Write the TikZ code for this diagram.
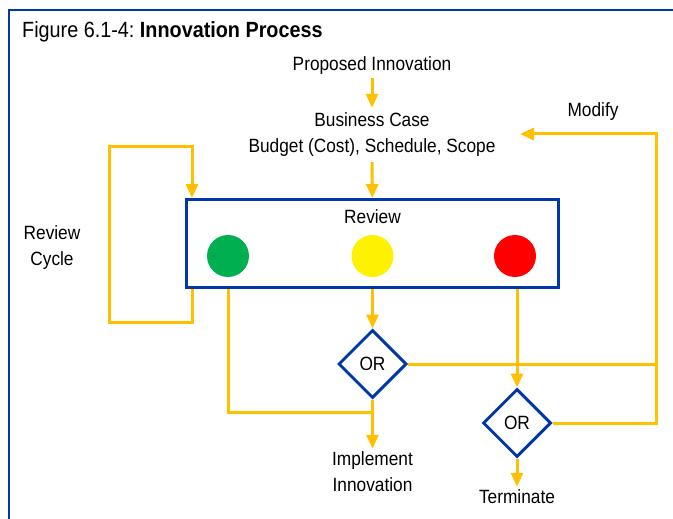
\documentclass[tikz,border=0pt]{standalone}
\usepackage{fontspec}
\setmainfont{Liberation Sans}[FakeStretch=0.9]
\usetikzlibrary{arrows.meta,shapes.geometric,positioning}
\definecolor{flowgold}{RGB}{255,192,0}
\definecolor{boxblue}{RGB}{0,56,168}
\definecolor{goodgreen}{RGB}{0,176,80}
\definecolor{warnyellow}{RGB}{255,242,0}
\definecolor{stopred}{RGB}{255,0,0}
\frenchspacing

\begin{document}
\begin{tikzpicture}[x=1pt,y=-1pt,
		flow/.style={draw=flowgold,line width=3pt},
		flowarrow/.style={flow,-{Triangle[length=14pt,width=12pt]}},
		lbl/.style={align=center,font=\fontsize{19.2}{26}\selectfont,inner sep=3pt},
		lamp/.style={circle,inner sep=0pt,minimum size=42pt,fill=#1},
		orgate/.style={diamond,draw=boxblue,line width=3pt,fill=white,minimum size=68pt,inner sep=0pt,font=\fontsize{19.2}{20}\selectfont}]
	\useasboundingbox (0,0) rectangle (673,519);
	\draw[boxblue,line width=2.5pt] (9,530) -- (9,10) -- (680,10);
	\node[anchor=west,font=\fontsize{22}{24}\selectfont,inner sep=0pt] (title) at (22,32) {Figure 6.1-4: \textbf{Innovation Process}};

	\node[lbl] (prop) at (372,66) {Proposed Innovation};
	\node[lbl,inner sep=5pt] (bcase) at (372,135) {Business Case\\Budget (Cost), Schedule, Scope};
	\node[draw=boxblue,line width=3pt,minimum width=372pt,minimum height=88pt] (review) at (372.5,243.5) {};
	\node[lbl] (revlabel) at (372.5,217) {Review};
	\node[lamp=goodgreen] (green) at (228,256) {};
	\node[lamp=warnyellow] (yellow) at (372.5,256) {};
	\node[lamp=stopred] (red) at (515,256) {};
	\node[lbl] (cycle) at (52,248) {Review\\Cycle};
	\node[orgate] (or1) at (372.5,364) {OR};
	\node[orgate] (or2) at (517,423) {OR};
	\node[lbl] (impl) at (372.5,472) {Implement\\Innovation};
	\node[lbl] (term) at (517,497) {Terminate};
	\node[lbl] (modify) at (593,112) {Modify};

	\coordinate (cycleR) at (192,322);
	\coordinate (cycleL) at (109,147);
	\coordinate (join) at (372.5,412);
	\coordinate (loopR) at (656,134);
	\coordinate (modtip) at (520,134);

	\draw[flowarrow] (prop) -- (bcase);
	\draw[flowarrow] (bcase) -- (review);
	\draw[flowarrow] (cycleR |- review.south) -- (cycleR) -| (cycleL) -| (cycleR |- review.north);
	\draw[flow] (green |- review.south) |- (join);
	\draw[flowarrow] (review.south) -- (or1.north);
	\draw[flowarrow] (or1.south) -- (impl);
	\draw[flow] (or1.east) -- (or1.east -| loopR);
	\draw[flowarrow] (or2 |- review.south) -- (or2.north);
	\draw[flowarrow] (or2.east) -| (loopR) -- (modtip);
	\draw[flowarrow] (or2.south) -- (term);
\end{tikzpicture}
\end{document}
